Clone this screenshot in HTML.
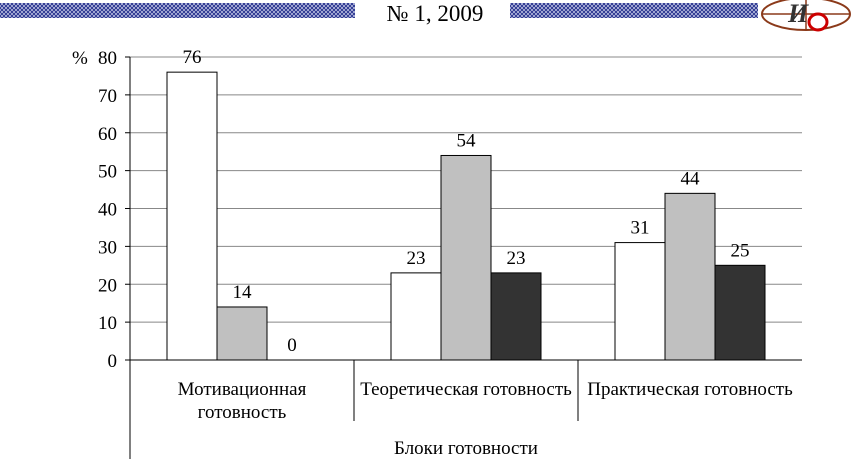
<!DOCTYPE html>
<html><head><meta charset="utf-8"><style>
body{margin:0;background:#fff;width:856px;height:459px;overflow:hidden;font-family:"Liberation Serif",serif}
svg text{font-family:"Liberation Serif",serif}
</style></head><body>
<svg width="856" height="459" viewBox="0 0 856 459">
<defs><pattern id="hatch" width="4" height="4" patternUnits="userSpaceOnUse"><rect width="4" height="4" fill="#c8cce8"/><path d="M0 0L4 4M4 0L0 4" stroke="#2a3590" stroke-width="1"/></pattern></defs>
<rect x="0" y="3" width="355" height="15" fill="url(#hatch)"/>
<rect x="510" y="3" width="248" height="15" fill="url(#hatch)"/>
<text x="435" y="21" font-size="23" text-anchor="middle">№ 1, 2009</text>
<g>
<ellipse cx="806" cy="14" rx="44" ry="16" fill="none" stroke="#8b3a1a" stroke-width="2"/>
<line x1="762" y1="14" x2="850" y2="14" stroke="#8b3a1a" stroke-width="1.5"/>
<line x1="806" y1="-2" x2="806" y2="30" stroke="#8b3a1a" stroke-width="1.5"/>
<text x="788" y="22" font-size="26" font-weight="bold" font-style="italic" fill="#333">И</text>
<ellipse cx="818" cy="22" rx="9" ry="8" fill="none" stroke="#c00" stroke-width="3"/>
</g>
<g id="plot"></g>
</svg>
<script>
const categories=["Мотивационная|готовность","Теоретическая готовность","Практическая готовность"];
const series1=[76,23,31];
const series2=[14,54,44];
const series3=[0,23,25];
const yTicks=[0,10,20,30,40,50,60,70,80];
const fills=["#ffffff","#c0c0c0","#333333"];
const NS="http://www.w3.org/2000/svg";
const g=document.getElementById('plot');
const x0=130,x1=802,y0=360,yTop=57;
const FS=19;
const y=v=>y0-(v/80)*(y0-yTop);
const catW=(x1-x0)/categories.length;
function mk(t,a){const e=document.createElementNS(NS,t);for(const k in a)e.setAttribute(k,a[k]);g.appendChild(e);return e;}
yTicks.forEach(t=>{
 if(t>0){const l=mk('line',{x1:x0,x2:x1,y1:y(t),y2:y(t),stroke:'#888','stroke-width':1});
 
 }
 const tk=mk('line',{x1:x0-5,x2:x0,y1:y(t),y2:y(t),stroke:'#000'});
 
 
 const tx=mk('text',{x:x0-13,y:y(t)+7,'font-size':FS,'text-anchor':'end'});tx.textContent=t;
 
 
});
const pct=mk('text',{x:72,y:y(80)+7,'font-size':FS});pct.textContent='%';


const ax=mk('line',{x1:x0,x2:x0,y1:yTop,y2:459,stroke:'#000'});


const bx=mk('line',{x1:x0,x2:x1,y1:y0,y2:y0,stroke:'#000'});


const all=[series1,series2,series3];
categories.forEach((c,i)=>{
 const gx=x0+i*catW+37;
 all.forEach((s,j)=>{
  const v=s[i];const bxp=gx+j*50;
  if(v>0){const r=mk('rect',{x:bxp,y:y(v),width:50,height:y0-y(v),fill:fills[j],stroke:'#000','stroke-width':1});
  
  }
  const t=mk('text',{x:bxp+25,y:y(v)-9,'font-size':FS,'text-anchor':'middle'});t.textContent=v;
  
  
 });
 if(i>0){const d=mk('line',{x1:x0+i*catW,x2:x0+i*catW,y1:y0,y2:421,stroke:'#000'});
 
 }
 const lines=c.split('|');
 lines.forEach((ln,k)=>{const t=mk('text',{x:x0+i*catW+catW/2,y:395+k*23,'font-size':FS,'text-anchor':'middle'});t.textContent=ln;
 
 });
});
const xt=mk('text',{x:466,y:454,'font-size':FS,'text-anchor':'middle'});xt.textContent='Блоки готовности';


</script>
</body></html>
